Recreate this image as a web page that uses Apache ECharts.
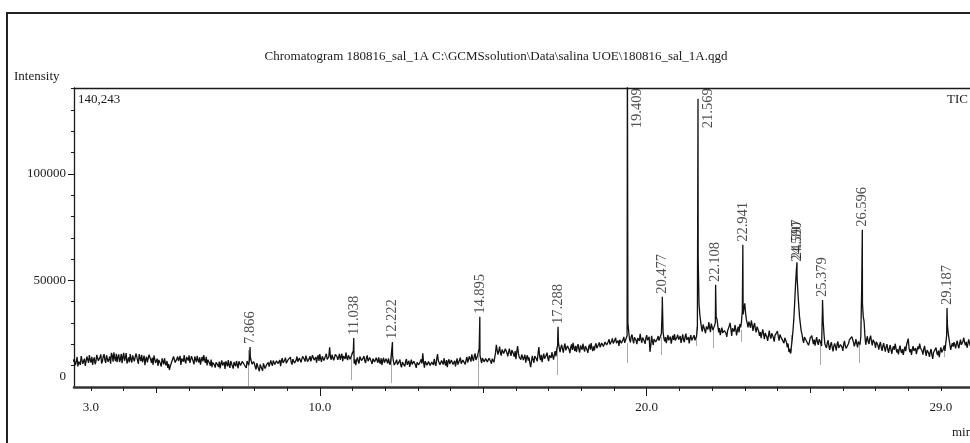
<!DOCTYPE html>
<html>
<head>
<meta charset="utf-8">
<script src="https://cdn.jsdelivr.net/npm/echarts@6/dist/echarts.min.js"></script>
<style>
  html, body { margin: 0; padding: 0; background: #fff; }
  #chart { width: 970px; height: 443px; }
</style>
</head>
<body>
<div id="chart"></div>
<script>
// TIC trace, one value every 0.05 min from 2.40 min (one row = one minute)
const traceStart = 2.4;
const traceStep = 0.05;
const traceValues = [
  13900, 10600, 13400, 11200, 9700, 12800, 14500, 10900, 13300, 10100, 13700, 15000, 11500, 10400, 13900, 11800, 14800, 11600, 15300, 12100,
  15400, 11300, 15600, 12500, 10900, 14800, 16200, 12100, 11600, 15300, 13000, 11200, 16000, 13800, 11000, 13900, 15400, 11500, 14600, 11700,
  14300, 10900, 13600, 15100, 11400, 10200, 14200, 11800, 15000, 11300, 10300, 13900, 11800, 9900, 12900, 9600, 12100, 13500, 10100, 8900,
  8000, 10900, 12900, 13700, 10800, 14300, 11600, 10400, 13900, 15000, 11100, 13600, 14900, 10800, 13800, 10600, 13400, 14600, 11500, 10500,
  14100, 15000, 11300, 10100, 13600, 10000, 9300, 12300, 9100, 12100, 9400, 8700, 12500, 9600, 8500, 11900, 12600, 9000, 11500, 8600,
  11300, 12200, 8800, 11800, 9300, 12600, 9900, 8900, 12300, 12900, 13200, 9800, 10900, 8200, 9800, 7400, 10100, 7600, 10300, 8900,
  10700, 9600, 12500, 9900, 13000, 10400, 13200, 10300, 9800, 13500, 10800, 13800, 10200, 13100, 14000, 10500, 13600, 10900, 14300, 11100,
  14200, 12100, 13700, 11900, 14000, 12600, 14500, 11300, 15300, 12400, 11400, 14900, 15400, 11800, 14800, 11700, 15600, 12300, 18600, 12800,
  15000, 13100, 14600, 12700, 15500, 13300, 12100, 15400, 16200, 12600, 15800, 12200, 14800, 11000, 10300, 13900, 11000, 14700, 11500, 14500,
  11300, 14800, 11200, 14400, 10800, 14100, 11100, 12900, 13900, 10900, 10300, 13700, 10700, 12500, 13400, 10400, 12600, 12200, 9500, 12800,
  9600, 12900, 9200, 12500, 9700, 13100, 10000, 9400, 12800, 9800, 12600, 9000, 12300, 9500, 13000, 15800, 9100, 12700, 9600, 12400,
  9400, 12600, 13200, 9900, 15400, 12900, 9700, 12800, 13500, 10000, 9300, 13000, 10100, 13200, 10200, 9600, 13400, 10400, 13800, 10700,
  13500, 10600, 14100, 12400, 13700, 15300, 12200, 15800, 12800, 16300, 14900, 11200, 14500, 11000, 14100, 11300, 14400, 10900, 13900, 12000,
  19800, 15200, 18900, 14700, 18200, 15000, 18800, 14400, 18000, 14600, 17800, 14200, 13000, 19200, 14000, 12800, 14200, 13300, 11400, 14900,
  13900, 9300, 14600, 11400, 15300, 12000, 18700, 12600, 11700, 15700, 12400, 16100, 12100, 15400, 16300, 12800, 16800, 17900, 20800, 16300,
  19800, 16100, 20400, 16700, 19600, 15900, 20000, 20700, 16900, 16400, 20100, 16200, 19400, 20300, 16600, 19700, 16000, 19900, 20600, 16800,
  17200, 20500, 17600, 20900, 17900, 21400, 18300, 22000, 18900, 22400, 19200, 22800, 19500, 23100, 19900, 19300, 23000, 19700, 23500, 20200,
  24000, 25800, 20900, 24600, 20500, 24100, 20100, 23700, 24900, 20700, 23800, 20200, 24300, 21100, 16500, 24000, 19700, 23400, 20300, 23900,
  21100, 25100, 26000, 21400, 20600, 24400, 21200, 20300, 24100, 24800, 20900, 24500, 21500, 20700, 24700, 21000, 25000, 21400, 20500, 24300,
  21200, 24300, 21600, 27700, 39000, 30800, 26000, 29800, 25200, 29000, 30500, 25700, 29300, 26300, 30200, 31700, 25600, 24300, 27900, 24700,
  26800, 23500, 27500, 30100, 23900, 28000, 29100, 24200, 28300, 29500, 30700, 34000, 39200, 31600, 28000, 29300, 31200, 26300, 30000, 25700,
  28800, 24000, 22900, 27000, 22400, 26100, 21600, 26500, 22700, 25800, 21300, 25000, 26200, 21700, 25500, 22000, 20600, 23800, 18600, 16400,
  15700, 22200, 31700, 47200, 51700, 38400, 29600, 24800, 20700, 24300, 21200, 19600, 22900, 24100, 20100, 19400, 23400, 19800, 23000, 19200,
  30400, 20200, 18300, 21900, 17400, 21000, 16700, 20400, 17100, 21300, 17600, 20800, 16900, 21600, 18100, 17300, 22100, 22700, 24000, 19100,
  22400, 18600, 21800, 23700, 39200, 30700, 19800, 23800, 20200, 24100, 19500, 23000, 18400, 21500, 17500, 21100, 16900, 20600, 16600, 20100,
  16000, 19700, 15600, 19100, 20300, 16200, 15300, 19400, 15900, 15100, 18900, 19800, 22700, 16300, 15000, 19200, 16100, 15400, 19000, 20400,
  18800, 15200, 19300, 14600, 18200, 14100, 17800, 13200, 17100, 18500, 14900, 14000, 18600, 15600, 19400, 20700, 29000, 22500, 17400, 20600,
  21000, 18100, 21700, 18200, 22200, 19000, 23100, 19600, 18400, 22300, 19200, 23300, 19700, 18700, 22700, 19500, 18300, 22400, 18900, 22000
];

// in-between scans, every 0.05 min from 2.425 min
const midStart = 2.425;
const midValues = [
  11500, 12900, 10300, 14100, 11900, 10400, 13600, 12200, 9900, 14300, 11300, 12600, 14200, 12800, 10700, 15100, 12300, 13900, 11000, 14400,
  12600, 14900, 11800, 14300, 16000, 11900, 13600, 15600, 14100, 11700, 15500, 14400, 12300, 15900, 12500, 11600, 12900, 14800, 12000, 15700,
  12400, 15400, 12200, 11600, 14700, 13000, 11500, 15200, 12900, 13700, 14800, 11300, 13300, 12700, 10900, 13400, 10600, 11100, 12200, 10800,
  9800, 12100, 14300, 11500, 13100, 12200, 14600, 13300, 11900, 12200, 14100, 12400, 11300, 14500, 12000, 14300, 11700, 12600, 13900, 12700,
  12000, 12700, 14200, 12800, 11100, 12900, 11500, 10300, 11600, 10400, 11900, 10900, 10100, 11700, 12100, 9700, 10300, 12200, 9800, 11700,
  9700, 10500, 12100, 10100, 12000, 10800, 11700, 12200, 10200, 14000, 10700, 11900, 9300, 11200, 8900, 10600, 8600, 11100, 8700, 10500,
  11600, 10500, 11000, 12400, 10600, 12300, 11000, 12700, 12200, 11300, 12600, 11100, 12700, 11900, 11600, 13100, 11200, 12600, 11900, 13600,
  11600, 14400, 13000, 14700, 11900, 13300, 12000, 14900, 12600, 14100, 13600, 12200, 13200, 14400, 12400, 14600, 12900, 14200, 14000, 15100,
  12500, 15300, 14200, 13900, 12800, 15600, 14500, 13200, 13700, 14900, 13000, 14900, 17000, 13000, 12600, 12000, 14300, 12400, 13500, 12300,
  13600, 12100, 13800, 11900, 13300, 11700, 13700, 11400, 12000, 13500, 12600, 11400, 13300, 11100, 11400, 13200, 15000, 10300, 11800, 10500,
  11900, 10300, 11700, 10800, 12000, 10400, 12300, 11200, 10600, 12100, 10300, 11600, 10400, 12000, 11000, 11400, 12100, 10200, 11900, 10100,
  11700, 10300, 11100, 13000, 12300, 10400, 12400, 10500, 11300, 12600, 11900, 10800, 12700, 10500, 12300, 11800, 10500, 12700, 10900, 12600,
  11900, 12800, 11500, 14400, 11900, 13300, 14500, 12700, 14700, 18000, 12900, 13600, 11800, 13300, 11700, 13500, 12100, 13300, 11600, 16000,
  17300, 16900, 16000, 17600, 15700, 17900, 15900, 16500, 15800, 17300, 15500, 16800, 16600, 15800, 13500, 15200, 12600, 15100, 13800, 12400,
  11200, 12100, 12700, 14500, 13200, 15600, 14400, 15100, 13900, 13300, 14900, 13500, 14800, 13700, 14500, 15200, 14400, 19500, 18300, 18600,
  17800, 18900, 17200, 19300, 17600, 18600, 17400, 18200, 19300, 18800, 17600, 19500, 17500, 18100, 19200, 17400, 18800, 17500, 18200, 19100,
  19500, 18200, 19900, 18600, 20600, 19000, 21100, 19700, 21300, 20000, 21600, 20400, 22000, 20600, 21800, 22100, 20500, 22300, 20700, 23000,
  30000, 22400, 23500, 22200, 23300, 21800, 22900, 21600, 22300, 23200, 21600, 23000, 21900, 23600, 19500, 21400, 22500, 21100, 22600, 21800,
  22600, 38000, 22900, 23400, 22700, 21900, 23700, 22500, 22100, 21800, 23500, 22200, 23900, 22400, 22300, 23600, 22100, 23400, 22900, 21800,
  22700, 21900, 23800, 60000, 34000, 27900, 29300, 26600, 28300, 27000, 28000, 29700, 26700, 28800, 33000, 28800, 27600, 26100, 25400, 26500,
  25200, 26400, 28600, 27200, 27600, 25900, 27000, 26700, 25600, 28000, 36000, 37000, 34500, 29800, 30700, 27800, 29200, 28700, 27100, 28300,
  26200, 25700, 25100, 24800, 25300, 23500, 24100, 23800, 25200, 23100, 24200, 23400, 23700, 24600, 22800, 22700, 23100, 21000, 20400, 17900,
  18800, 26500, 39000, 54000, 44500, 33000, 26300, 22200, 23400, 21900, 22800, 21000, 23500, 21900, 22200, 21700, 20800, 22400, 20600, 36000,
  24500, 19600, 20800, 19000, 19900, 18600, 19300, 18900, 20200, 18300, 19900, 18700, 20100, 19200, 17900, 20400, 21200, 23600, 21000, 20400,
  20500, 21300, 19800, 45000, 33000, 24000, 22000, 21300, 22800, 21500, 22100, 20600, 21200, 19500, 19800, 18600, 19300, 18200, 18900, 17600,
  18200, 17300, 18100, 17400, 18200, 17600, 17800, 16900, 17800, 17300, 16800, 19900, 18400, 17800, 17600, 16900, 18200, 17400, 17700, 18300,
  16900, 17800, 16500, 17300, 15900, 16500, 15100, 16200, 15400, 16000, 17100, 16800, 16200, 17800, 16900, 24000, 25000, 19700, 19300, 18900,
  19700, 20300, 19400, 20600, 19800, 21400, 20900, 21200, 20200, 20500, 21900, 20700, 21300, 20400, 20600, 21300, 20800, 19900, 21100, 20500
];

// labelled peaks (retention time, apex intensity)
const peakTimes = [7.866, 11.038, 12.222, 14.895, 17.288, 19.409, 20.477, 21.569, 22.108, 22.941, 24.590, 24.597, 25.379, 26.596, 29.187];
const peakHeights = [18800, 23000, 21100, 32900, 28200, 162000, 42300, 135200, 47900, 66700, 57300, 58500, 40800, 73700, 37100];

// integration drop marks (time, top, bottom)
const dropTimes = [7.80, 10.97, 12.18, 14.84, 17.26, 19.40, 20.44, 21.53, 22.03, 22.88, 24.41, 25.32, 26.49, 29.09];
const dropTops = [17400, 16000, 17400, 15000, 26800, 20600, 23500, 28200, 26800, 26800, 24400, 22000, 19700, 19700];
const dropBottoms = [0, 3300, 1900, 0, 5600, 11300, 15000, 19300, 18300, 21100, 16000, 10300, 11300, 14000];

const xLabelValues = [3, 10, 20, 29];
const yLabelValues = [0, 50000, 100000];
const yMax = 140243;

const serif = 'Liberation Serif';
const ink = '#1a1a1a';

const points = traceValues.map((v, i) => [+(traceStart + i * traceStep).toFixed(3), v]);
midValues.forEach((v, i) => points.push([+(midStart + i * traceStep).toFixed(3), v]));
peakTimes.forEach((t, i) => points.push([t, peakHeights[i]]));
points.sort((a, b) => a[0] - b[0]);

// peaks running off the top get their label parked beside the line
const labelCap = 120000;
const peakLabelData = peakTimes.map((t, i) => {
  const over = peakHeights[i] > labelCap;
  const item = { value: [t, over ? labelCap : peakHeights[i]], name: t.toFixed(3) };
  if (over) item.label = { offset: [0, 10] };
  return item;
});

const dropData = dropTimes.map((t, i) => ({ coords: [[t, dropTops[i]], [t, dropBottoms[i]]] }));

const xBase = { type: 'value', min: 2.48, max: 29.89, splitLine: { show: false } };
const yBase = { type: 'value', min: 0, max: yMax, splitLine: { show: false } };
const intTicks = [];
for (let m = 3; m <= 29; m++) intTicks.push(m);
const yTicks = [];
for (let v = 10000; v <= 140000; v += 10000) yTicks.push(v);

const chart = echarts.init(document.getElementById('chart'), null, { renderer: 'canvas' });
chart.setOption({
  animation: false,
  backgroundColor: '#fff',
  grid: { left: 74, top: 88, right: 0, bottom: 56, show: false },
  xAxis: [
    Object.assign({}, xBase, {
      position: 'bottom',
      axisLine: { show: true, onZero: false, lineStyle: { color: '#333', width: 2.5 } },
      axisTick: { show: true, length: 9, customValues: [10, 20], lineStyle: { color: ink } },
      axisLabel: {
        customValues: xLabelValues, margin: 14,
        fontFamily: serif, fontSize: 13, color: ink,
        formatter: v => v.toFixed(1)
      }
    }),
    Object.assign({}, xBase, {
      position: 'bottom',
      axisLine: { show: false, onZero: false },
      axisTick: { show: true, length: 6, customValues: [5, 15, 25], lineStyle: { color: ink } },
      axisLabel: { show: false }
    }),
    Object.assign({}, xBase, {
      position: 'bottom',
      axisLine: { show: false, onZero: false },
      axisTick: { show: true, length: 4, customValues: intTicks, lineStyle: { color: ink } },
      axisLabel: { show: false }
    }),
    Object.assign({}, xBase, {
      position: 'top',
      axisLine: { show: true, onZero: false, lineStyle: { color: ink, width: 1.3 } },
      axisTick: { show: false },
      axisLabel: { show: false }
    })
  ],
  yAxis: [
    Object.assign({}, yBase, {
      axisLine: { show: true, onZero: false, lineStyle: { color: ink, width: 1.3 } },
      axisTick: { show: true, length: 6, customValues: [50000, 100000], lineStyle: { color: ink } },
      axisLabel: {
        customValues: yLabelValues, margin: 8,
        fontFamily: serif, fontSize: 13, color: ink,
        formatter: v => (v === 0 ? '{z|0}' : String(v)),
        rich: { z: { fontFamily: serif, fontSize: 13, color: ink, padding: [0, 0, 20, 0] } }
      }
    }),
    Object.assign({}, yBase, {
      position: 'left',
      axisLine: { show: false },
      axisTick: { show: true, length: 3, customValues: yTicks, lineStyle: { color: ink } },
      axisLabel: { show: false }
    })
  ],
  series: [
    {
      type: 'lines',
      coordinateSystem: 'cartesian2d',
      xAxisIndex: 0, yAxisIndex: 0,
      data: dropData,
      lineStyle: { color: '#555', width: 1 },
      silent: true
    },
    {
      type: 'line',
      xAxisIndex: 0, yAxisIndex: 0,
      data: points,
      showSymbol: false,
      symbol: 'none',
      clip: true,
      lineStyle: { color: '#111', width: 1.3 },
      silent: true
    },
    {
      type: 'scatter',
      xAxisIndex: 0, yAxisIndex: 0,
      data: peakLabelData,
      symbolSize: 0,
      silent: true,
      label: {
        show: true,
        position: 'top',
        distance: 3,
        rotate: 90,
        align: 'left',
        verticalAlign: 'middle',
        fontFamily: serif,
        fontSize: 14.5,
        color: '#222',
        formatter: p => p.name
      }
    }
  ],
  graphic: [
    {
      type: 'polyline',
      shape: { points: [[7, 443], [7, 13], [975, 13]] },
      style: { stroke: '#222', lineWidth: 2, fill: null },
      silent: true
    },
    {
      type: 'text', x: 496, y: 57,
      style: { text: 'Chromatogram 180816_sal_1A C:\\GCMSsolution\\Data\\salina UOE\\180816_sal_1A.qgd',
        font: '13px "Liberation Serif"', fill: ink, align: 'center', verticalAlign: 'middle' }
    },
    {
      type: 'text', x: 14, y: 77,
      style: { text: 'Intensity', font: '13px "Liberation Serif"', fill: ink, verticalAlign: 'middle' }
    },
    {
      type: 'text', x: 78, y: 100,
      style: { text: '140,243', font: '13px "Liberation Serif"', fill: ink, verticalAlign: 'middle' }
    },
    {
      type: 'text', x: 947, y: 100,
      style: { text: 'TIC', font: '13px "Liberation Serif"', fill: ink, verticalAlign: 'middle' }
    },
    {
      type: 'text', x: 952, y: 433,
      style: { text: 'min', font: '13px "Liberation Serif"', fill: ink, verticalAlign: 'middle' }
    }
  ]
});
</script>
</body>
</html>
